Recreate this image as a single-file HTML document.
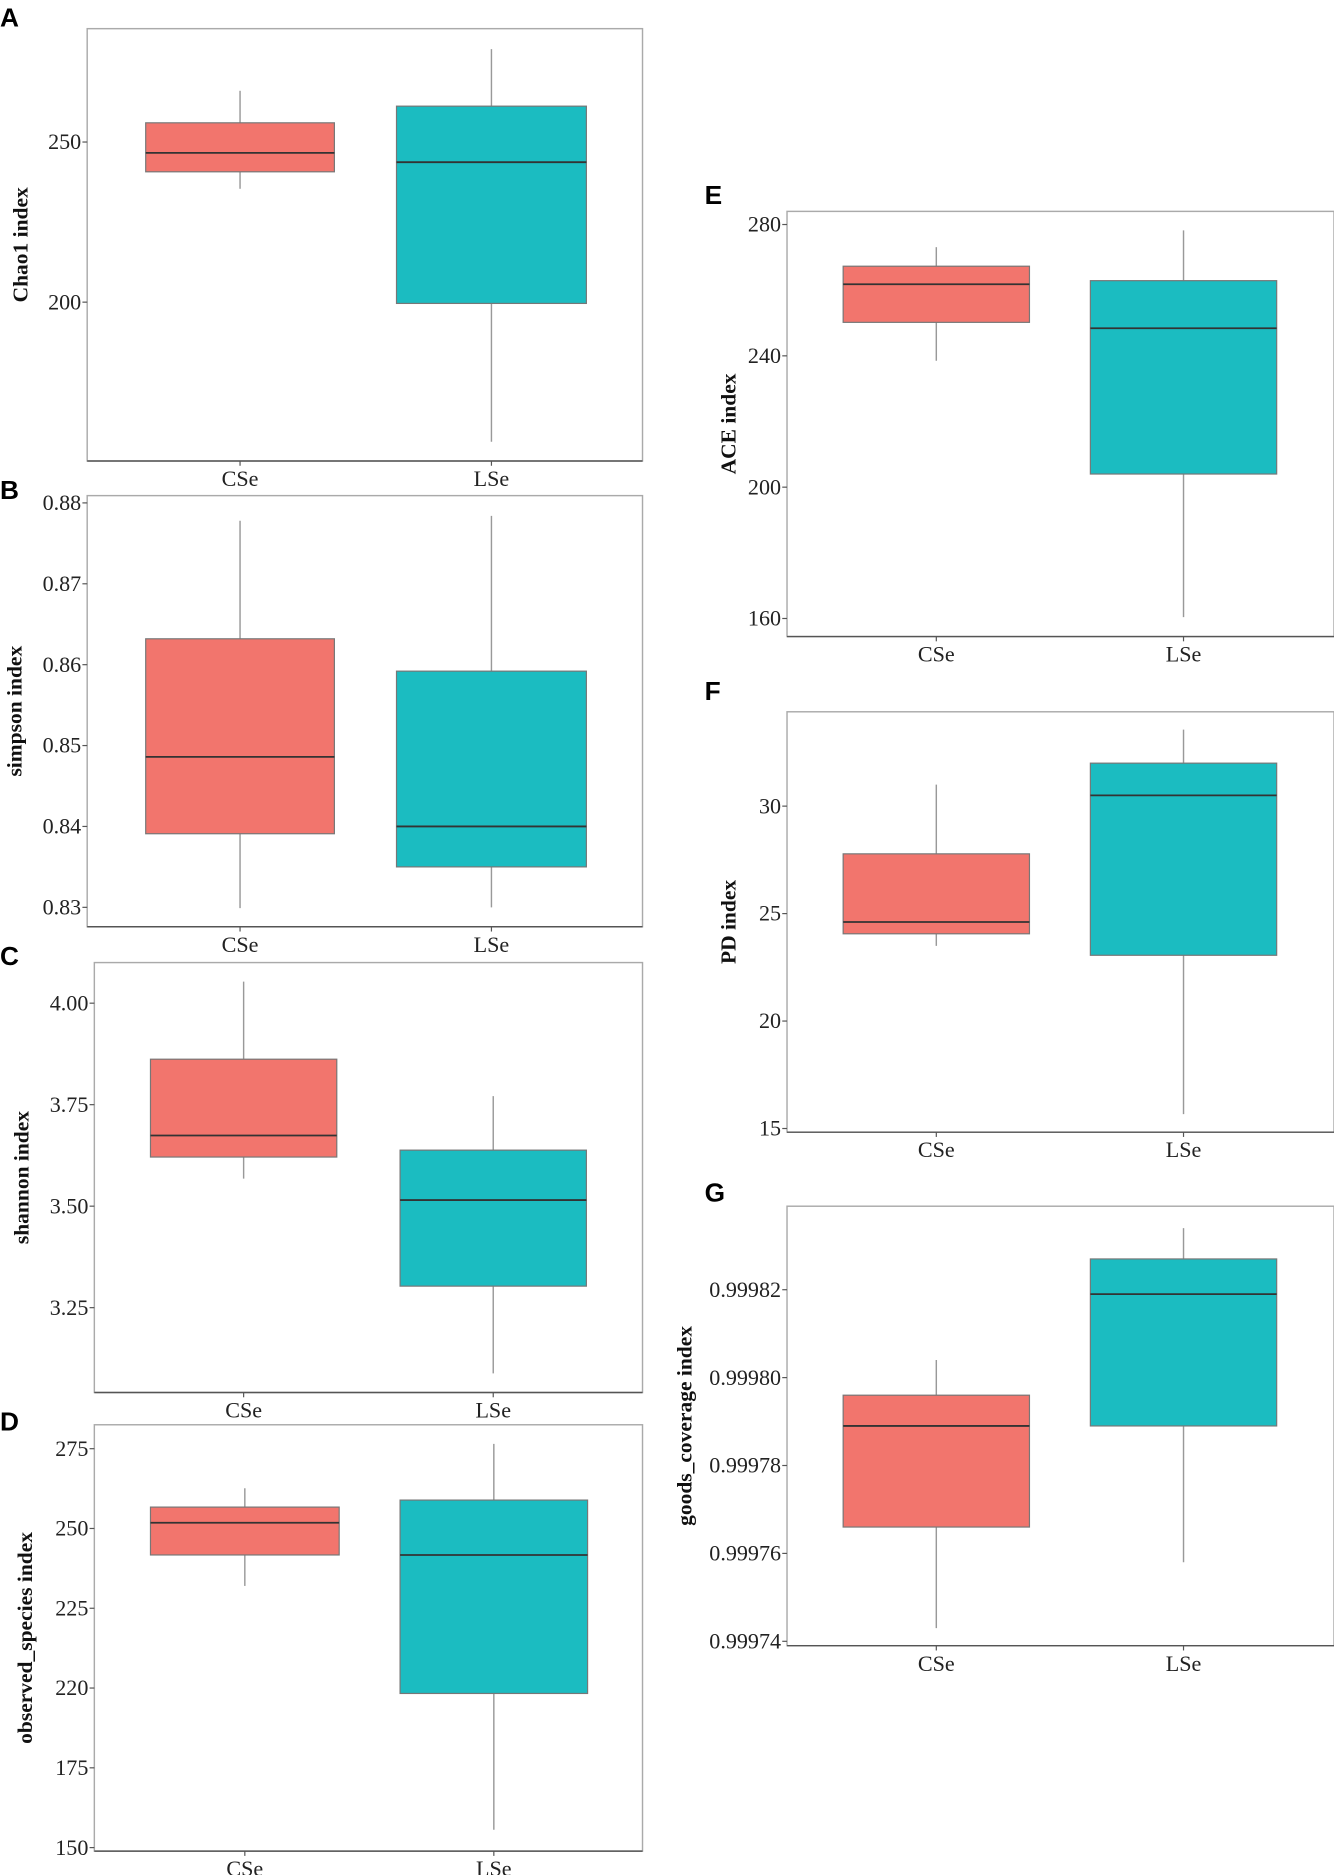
<!DOCTYPE html>
<html><head><meta charset="utf-8"><style>
html,body{margin:0;padding:0;background:#fff}
svg{display:block}
text{font-family:"Liberation Serif","Times New Roman",serif}
.tick{font-size:18.5px;fill:#222}
.ttl{font-size:18px;font-weight:bold;fill:#111}
.pl{font-family:"Liberation Sans",sans-serif;font-size:22px;font-weight:bold;fill:#000}
</style></head><body>
<svg id="fig" width="1334" height="1875" viewBox="0 0 1117 1570" preserveAspectRatio="none" xmlns="http://www.w3.org/2000/svg"></svg>
<script>
// categories
const groups = ["CSe","LSe"];
// series values per panel: [whiskerMin, q1, median, q3, whiskerMax]
const chao1CSe = [235.4, 240.7, 246.6, 256, 266];
const chao1LSe = [156.4, 199.6, 243.7, 261.2, 279];
const simpsonCSe = [0.8299, 0.8391, 0.8486, 0.8632, 0.8778];
const simpsonLSe = [0.8300, 0.8350, 0.8400, 0.8592, 0.8784];
const shannonCSe = [3.568, 3.621, 3.674, 3.862, 4.053];
const shannonLSe = [3.088, 3.303, 3.515, 3.638, 3.771];
const obsCSe = [232.0, 241.7, 251.8, 256.7, 262.6];
const obsLSe = [155.6, 198.3, 241.7, 258.9, 276.5];
const aceCSe = [238.5, 250.2, 261.8, 267.3, 273.1];
const aceLSe = [160.4, 204.0, 248.4, 262.9, 278.2];
const pdCSe = [23.5, 24.06, 24.61, 27.78, 31.0];
const pdLSe = [15.67, 23.06, 30.5, 32.0, 33.56];
const goodsCSe = [0.999743, 0.999766, 0.999789, 0.999796, 0.999804];
const goodsLSe = [0.999758, 0.999789, 0.999819, 0.999827, 0.999834];
// tick values and labels
const chao1Ticks = [250, 200];
const chao1TickLabels = ["250","200"];
const simpsonTicks = [0.88,0.87,0.86,0.85,0.84,0.83];
const simpsonTickLabels = ["0.88","0.87","0.86","0.85","0.84","0.83"];
const shannonTicks = [4.0,3.75,3.5,3.25];
const shannonTickLabels = ["4.00","3.75","3.50","3.25"];
const obsTicks = [275,250,225,200,175,150];
const obsTickLabels = ["275","250","225","220","175","150"];
const aceTicks = [280,240,200,160];
const aceTickLabels = ["280","240","200","160"];
const pdTicks = [30,25,20,15];
const pdTickLabels = ["30","25","20","15"];
const goodsTicks = [0.99982,0.99980,0.99978,0.99976,0.99974];
const goodsTickLabels = ["0.99982","0.99980","0.99978","0.99976","0.99974"];

const NS="http://www.w3.org/2000/svg";
const svg=document.getElementById('fig');
function mk(tag,attrs,parent){const e=document.createElementNS(NS,tag);for(const k in attrs)e.setAttribute(k,attrs[k]);(parent||svg).appendChild(e);return e;}
const colors=["#f2756d","#1bbcc1"];

const panels=[
 {id:"a",letter:"A",lx:0,ly:22,x0:73,x1:538,y0:24,y1:386,dom:[285.4,150.4],series:[chao1CSe,chao1LSe],ticks:chao1Ticks,tl:chao1TickLabels,title:"Chao1 index",bx:[122,280,332,491],off:50},
 {id:"b",letter:"B",lx:0,ly:418,x0:73,x1:538,y0:415,y1:776,dom:[0.8809,0.8276],series:[simpsonCSe,simpsonLSe],ticks:simpsonTicks,tl:simpsonTickLabels,title:"simpson index",bx:[122,280,332,491],off:55},
 {id:"c",letter:"C",lx:0,ly:808,x0:79,x1:538,y0:806,y1:1166,dom:[4.1,3.041],series:[shannonCSe,shannonLSe],ticks:shannonTicks,tl:shannonTickLabels,title:"shannon index",bx:[126,282,335,491],off:55},
 {id:"d",letter:"D",lx:0,ly:1198,x0:79,x1:538,y0:1193,y1:1550,dom:[282.5,148.9],series:[obsCSe,obsLSe],ticks:obsTicks,tl:obsTickLabels,title:"observed_species index",bx:[126,284,335,492],off:52},
 {id:"e",letter:"E",lx:590,ly:171,x0:659,x1:1117,y0:177,y1:533,dom:[284,154.5],series:[aceCSe,aceLSe],ticks:aceTicks,tl:aceTickLabels,title:"ACE index",bx:[706,862,913,1069],off:43},
 {id:"f",letter:"F",lx:590,ly:586,x0:659,x1:1117,y0:596,y1:948,dom:[34.39,14.83],series:[pdCSe,pdLSe],ticks:pdTicks,tl:pdTickLabels,title:"PD index",bx:[706,862,913,1069],off:43},
 {id:"g",letter:"G",lx:590,ly:1006,x0:659,x1:1117,y0:1010,y1:1378,dom:[0.999839,0.999739],series:[goodsCSe,goodsLSe],ticks:goodsTicks,tl:goodsTickLabels,title:"goods_coverage index",bx:[706,862,913,1069],off:80}
];

panels.forEach(p=>{
 const g=mk('g',{});
 
 
 const y=v=>p.y0+(p.dom[0]-v)/(p.dom[0]-p.dom[1])*(p.y1-p.y0);
 const lt=mk('text',{x:p.lx,y:p.ly,class:'pl'},g);lt.textContent=p.letter;
 
 
 const fr=mk('rect',{x:p.x0,y:p.y0,width:p.x1-p.x0,height:p.y1-p.y0,fill:'none',stroke:'#aaa','stroke-width':1.2},g);
 
 
 mk('line',{x1:p.x0,x2:p.x1,y1:p.y1,y2:p.y1,stroke:'#555','stroke-width':1.2},g);
 p.ticks.forEach((t,i)=>{
  const ty=y(t);
  mk('line',{x1:p.x0-4,x2:p.x0,y1:ty,y2:ty,stroke:'#555'},g);
  const tx=mk('text',{x:p.x0-5,y:ty+6,class:'tick','text-anchor':'end'},g);
  tx.textContent=p.tl[i];
  
  
 });
 const cy=(p.y0+p.y1)/2;
 const tt=mk('text',{x:0,y:0,class:'ttl','text-anchor':'middle',transform:`translate(${p.x0-p.off},${cy}) rotate(-90)`},g);
 tt.textContent=p.title;
 
 
 groups.forEach((gr,i)=>{
  const s=p.series[i];const bl=p.bx[i*2],br=p.bx[i*2+1];const cx=(bl+br)/2;
  mk('line',{x1:cx,x2:cx,y1:p.y1,y2:p.y1+4,stroke:'#555'},g);
  const xl=mk('text',{x:cx,y:p.y1+21,class:'tick','text-anchor':'middle'},g);
  xl.textContent=gr;
  
  
  const w=mk('line',{x1:cx,x2:cx,y1:y(s[4]),y2:y(s[0]),stroke:'#999','stroke-width':1.2},g);
  
  
  const b=mk('rect',{x:bl,y:y(s[3]),width:br-bl,height:y(s[1])-y(s[3]),fill:colors[i],stroke:'#777','stroke-width':1},g);
  
  
  const m=mk('line',{x1:bl,x2:br,y1:y(s[2]),y2:y(s[2]),stroke:'#333','stroke-width':1.5},g);
  
  
 });
});
</script>
</body></html>
